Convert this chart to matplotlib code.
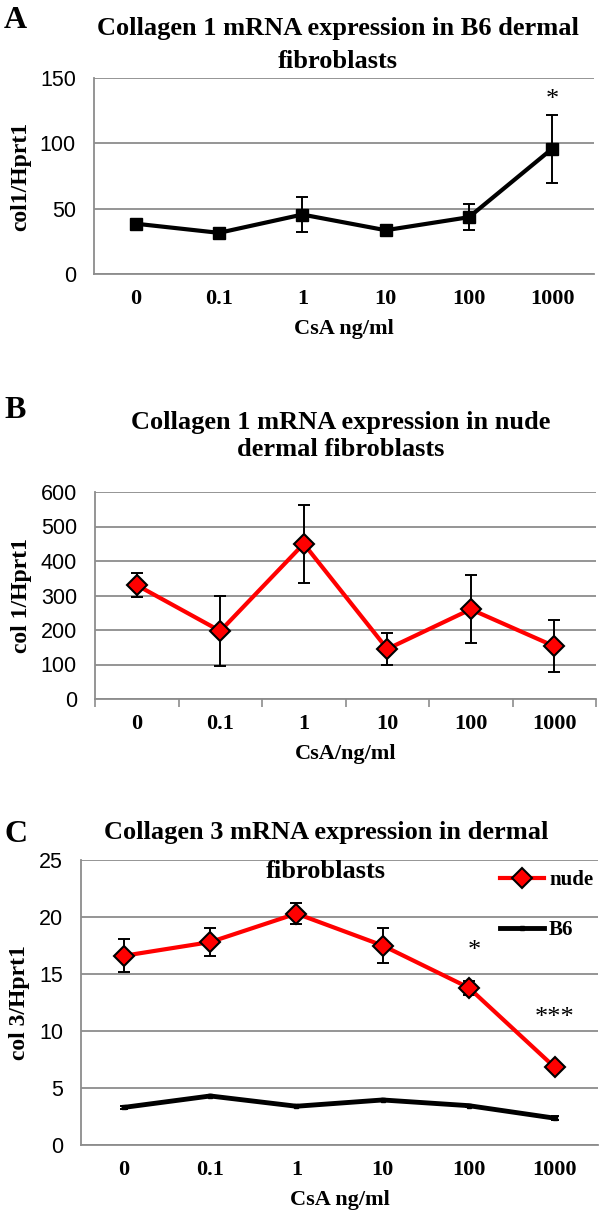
import matplotlib
matplotlib.use("Agg")
import matplotlib.pyplot as plt
from matplotlib.ticker import MultipleLocator

# data
doses = ["0", "0.1", "1", "10", "100", "1000"]

a_vals = [38.5, 31.5, 45.5, 33.5, 43.5, 96]
a_err = [2.5, 2.5, 13.5, 3, 10, 26]

b_vals = [330, 197, 450, 145, 260, 153]
b_err = [34, 101, 113, 47, 98, 76]

c_nude = [16.6, 17.8, 20.3, 17.5, 13.8, 6.8]
c_nude_err = [1.45, 1.25, 0.9, 1.5, 0.6, 0.3]
c_b6 = [3.3, 4.3, 3.4, 3.95, 3.45, 2.35]
c_b6_err = [0.15, 0.1, 0.1, 0.1, 0.1, 0.2]

W, H = 600, 1211
serif = "Liberation Serif"
sans = "Liberation Sans"
grid_col = "#8c8c8c"

fig = plt.figure(figsize=(W / 100, H / 100), dpi=100)


def box(left, top, right, bottom):
    # pixel box -> figure fraction
    return [left / W, 1 - bottom / H, (right - left) / W, (bottom - top) / H]


def style(ax, ymax, step, ylabel, xlabel, tickmarks=False):
    x = list(range(len(doses)))
    ax.set_xlim(-0.5, len(doses) - 0.5)
    ax.set_ylim(0, ymax)
    ax.yaxis.set_major_locator(MultipleLocator(step))
    ax.set_xticks(x)
    ax.set_xticklabels(doses, fontfamily=serif, fontweight="bold", fontsize=16)
    for t in ax.get_yticklabels():
        t.set_fontfamily(sans)
        t.set_fontsize(15.5)
    ax.tick_params(axis="y", length=0, pad=13)
    ax.tick_params(axis="x", which="major", length=0, pad=11)
    if tickmarks:
        ax.set_xticks([i + 0.5 for i in range(-1, len(doses))], minor=True)
        ax.tick_params(axis="x", which="minor", length=6, width=1.2, color=grid_col, direction="out")
    ax.grid(axis="y", color=grid_col, lw=1.3)
    ax.set_axisbelow(True)
    for s in ["top", "right"]:
        ax.spines[s].set_visible(False)
    for s in ["left", "bottom"]:
        ax.spines[s].set_color(grid_col)
        ax.spines[s].set_linewidth(1.3)
    ax.set_ylabel(ylabel, fontfamily=serif, fontweight="bold", fontsize=17, labelpad=6)
    ax.set_xlabel(xlabel, fontfamily=serif, fontweight="bold", fontsize=16, labelpad=7)
    return x


def ftext(px, py, s, size=19, ha="center", **kw):
    fig.text(px / W, 1 - py / H, s, ha=ha, va="center", fontfamily=serif,
             fontweight="bold", fontsize=size, **kw)


eb = dict(fmt="none", ecolor="black", elinewidth=1.4, capsize=4, capthick=1.4)

# ---- A ----
axA = fig.add_axes(box(94, 78, 594, 274))
x = style(axA, 150, 50, "col1/Hprt1", "CsA ng/ml")
axA.errorbar(x, a_vals, yerr=a_err, **eb)
axA.plot(x, a_vals, color="black", lw=3, marker="s", ms=9)
axA.text(5, 133, "*", ha="center", va="center", fontsize=19, fontfamily=serif)
ftext(4, 20, "A", size=23, ha="left")
ftext(338, 29, "Collagen 1 mRNA expression in B6 dermal")
ftext(338, 62, "fibroblasts")

# ---- B ----
axB = fig.add_axes(box(95, 492, 596, 699))
x = style(axB, 600, 100, "col 1/Hprt1", "CsA/ng/ml", tickmarks=True)
axB.errorbar(x, b_vals, yerr=b_err, **eb)
axB.plot(x, b_vals, color="red", lw=3, marker="D", ms=10, mfc="red", mec="black", mew=1.5)
ftext(4, 410, "B", size=23, ha="left")
ftext(341, 422, "Collagen 1 mRNA expression in nude")
ftext(341, 450, "dermal fibroblasts")

# ---- C ----
axC = fig.add_axes(box(81, 860, 598, 1145))
x = style(axC, 25, 5, "col 3/Hprt1", "CsA ng/ml")
axC.errorbar(x, c_nude, yerr=c_nude_err, **eb)
axC.errorbar(x, c_b6, yerr=c_b6_err, **dict(eb, capsize=3))
axC.plot(x, c_nude, color="red", lw=3, marker="D", ms=10, mfc="red", mec="black",
         mew=1.5, label="nude")
axC.plot(x, c_b6, color="black", lw=3.5, marker="s", ms=3, label="B6")
axC.text(4.07, 17.0, "*", ha="center", va="center", fontsize=19, fontfamily=serif)
axC.text(5.0, 11.1, "***", ha="center", va="center", fontsize=19, fontfamily=serif)
axC.legend(loc="upper left", bbox_to_anchor=(500 / W, 1 - 870 / H),
           bbox_transform=fig.transFigure, frameon=False, borderpad=0,
           borderaxespad=0, handlelength=2.1, handletextpad=0.25,
           labelspacing=1.45, prop={"family": serif, "weight": "bold", "size": 15})
ftext(4, 835, "C", size=23, ha="left")
ftext(326, 833, "Collagen 3 mRNA expression in dermal")
ftext(326, 872, "fibroblasts")

fig.savefig("out.png", dpi=100)
